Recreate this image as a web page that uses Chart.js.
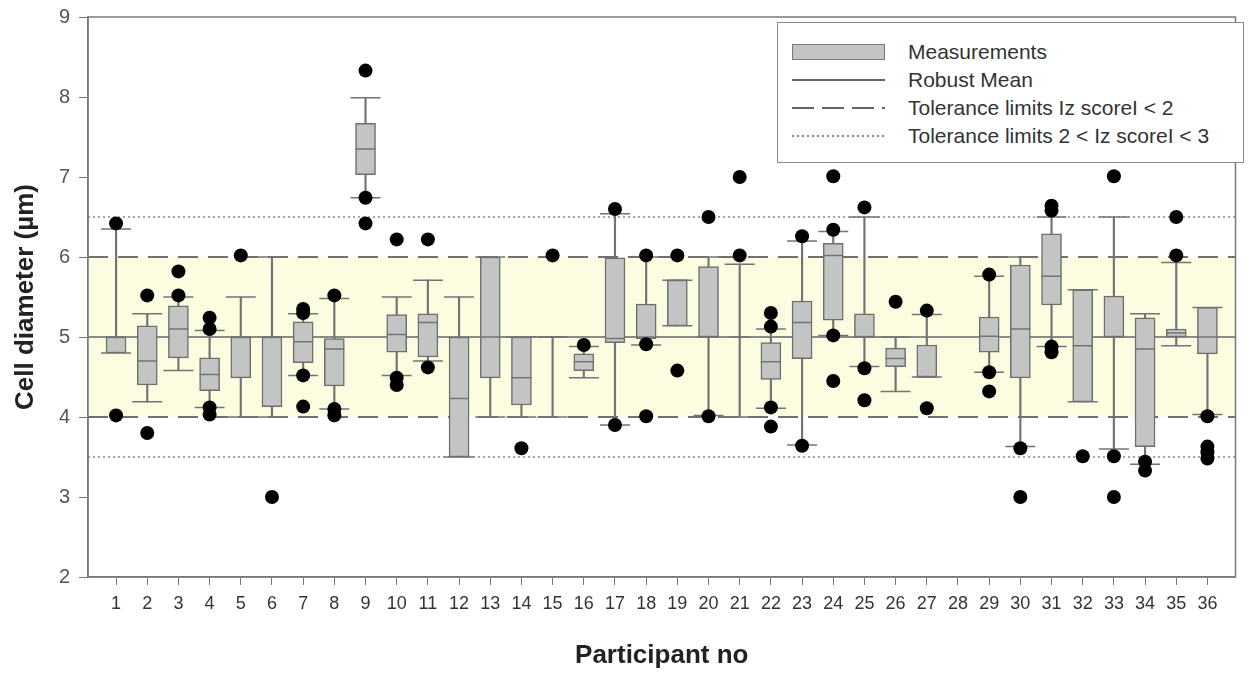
<!DOCTYPE html>
<html lang="en">
<head>
    <meta charset="UTF-8">
    <title>Cell diameter by participant</title>
    <style>
        body { margin: 0; background: #fff; font-family: "Liberation Sans", Arial, sans-serif; }
        #wrap { position: relative; width: 1252px; height: 673px; }
        #legend {
            position: absolute; left: 777px; top: 22px; width: 467px; height: 141px;
            border: 1.5px solid #8a8a8a; background: #fff; box-sizing: border-box;
            font-size: 21px; color: #333;
        }
        .row { position: absolute; left: 14px; height: 28px; display: flex; align-items: center; white-space: nowrap; }
        .sw { width: 93px; margin-right: 23px; }
        .box { background: #c4c4c4; border: 1.5px solid #777; box-sizing: border-box; height: 16px; }
        .solid { height: 1.5px; background: #666; }
        .dash { height: 1.5px; background: repeating-linear-gradient(to right, #666 0 22px, transparent 22px 30px); }
        .dot { height: 1.5px; background: repeating-linear-gradient(to right, #888 0 2px, transparent 2px 5px); }
    </style>
</head>
<body>
<div id="wrap">
    <canvas id="myChart"></canvas>
    <div id="legend">
        <div class="row" style="top:15px"><div class="sw box"></div>Measurements</div>
        <div class="row" style="top:43px"><div class="sw solid"></div>Robust Mean</div>
        <div class="row" style="top:71px"><div class="sw dash"></div>Tolerance limits Iz scoreI &lt; 2</div>
        <div class="row" style="top:99px"><div class="sw dot"></div>Tolerance limits 2 &lt; Iz scoreI &lt; 3</div>
    </div>
</div>
<script src="https://cdn.jsdelivr.net/npm/chart.js@4.4.1/dist/chart.umd.min.js"></script>
<script>
    // participants and box statistics (null = no result)
    var participants = [1,2,3,4,5,6,7,8,9,10,11,12,13,14,15,16,17,18,19,20,21,22,23,24,25,26,27,28,29,30,31,32,33,34,35,36];
    var whiskerLow  = [4.80,4.19,4.58,4.12,4.00,4.00,4.52,4.10,6.74,4.52,4.70,3.50,4.00,4.00,4.00,4.49,3.90,4.90,5.14,4.02,4.00,4.11,3.65,5.02,4.63,4.32,4.50,null,4.56,3.63,4.88,4.19,3.60,3.41,4.89,4.03];
    var q1          = [4.80,4.40,4.74,4.33,4.49,4.13,4.68,4.39,7.03,4.81,4.75,3.50,4.49,4.15,5.00,4.58,4.93,4.98,5.14,5.00,5.00,4.47,4.73,5.21,5.00,4.63,4.50,null,4.81,4.49,5.40,4.19,5.00,3.63,5.00,4.79];
    var median      = [5.00,4.70,5.10,4.53,5.00,5.00,4.94,4.85,7.35,5.03,5.18,4.23,5.00,4.49,5.00,4.69,4.98,5.00,5.71,5.00,5.00,4.69,5.18,6.02,5.00,4.73,4.50,null,5.01,5.10,5.76,4.89,5.00,4.85,5.05,5.00];
    var q3          = [5.00,5.14,5.39,4.74,5.00,5.00,5.19,4.98,7.67,5.28,5.29,5.00,6.00,5.00,5.00,4.79,5.99,5.41,5.71,5.88,5.00,4.93,5.45,6.17,5.29,4.86,4.90,null,5.25,5.90,6.29,5.59,5.51,5.24,5.10,5.37];
    var whiskerHigh = [6.35,5.29,5.50,5.08,5.50,6.00,5.29,5.48,7.99,5.50,5.71,5.50,6.00,5.00,5.00,4.88,6.54,6.00,5.71,6.00,5.91,5.10,6.20,6.32,6.50,5.00,5.28,null,5.76,6.00,6.50,5.59,6.50,5.29,5.93,5.37];
    // outliers: [participant, value]
    var outliers = [
        [1,6.42],[1,4.02],[2,5.52],[2,3.80],[3,5.82],[3,5.52],[4,5.24],[4,5.10],[4,4.12],[4,4.03],
        [5,6.02],[6,3.00],[7,5.35],[7,5.30],[7,4.52],[7,4.13],[8,5.52],[8,4.10],[8,4.02],
        [9,8.33],[9,6.74],[9,6.42],[10,6.22],[10,4.49],[10,4.40],[11,6.22],[11,4.62],
        [14,3.61],[15,6.02],[16,4.90],[17,6.60],[17,3.90],[18,6.02],[18,4.91],[18,4.01],
        [19,6.02],[19,4.58],[20,6.50],[20,4.01],[21,7.00],[21,6.02],
        [22,5.30],[22,5.13],[22,4.12],[22,3.88],[23,6.26],[23,3.64],
        [24,7.01],[24,6.34],[24,5.02],[24,4.45],[25,6.62],[25,4.61],[25,4.21],[26,5.44],
        [27,5.33],[27,4.11],[29,5.78],[29,4.56],[29,4.32],[30,3.61],[30,3.00],
        [31,6.64],[31,6.58],[31,4.88],[31,4.81],[32,3.51],[33,7.01],[33,3.51],[33,3.00],
        [34,3.44],[34,3.33],[35,6.50],[35,6.02],[36,4.01],[36,3.63],[36,3.56],[36,3.48]
    ];
    var robustMean = 5;
    var tol2 = [4, 6];
    var tol3 = [3.5, 6.5];
    var yTicks = [2,3,4,5,6,7,8,9];
    var xMin = 0.1, xMax = 36.9;

    var GREY = '#737373';

    function pairs(a, b) {
        var out = [];
        participants.forEach(function(p, i){
            if (a[i] !== null) out.push({x: p, y: [a[i], b[i]]});
        });
        return out;
    }
    function points(a) {
        var out = [];
        participants.forEach(function(p, i){
            if (a[i] !== null) out.push({x: p, y: a[i]});
        });
        return out;
    }
    function hline(v) { return [{x: xMin, y: v}, {x: xMax, y: v}]; }

    var frame = {
        id: 'frame',
        afterDraw: function(chart){
            var a = chart.chartArea, c = chart.ctx;
            c.save();
            c.strokeStyle = '#7a7a7a';
            c.lineWidth = 1.5;
            c.strokeRect(a.left, a.top, a.right - a.left, a.bottom - a.top);
            c.restore();
        }
    };

    var ctx = document.getElementById('myChart').getContext('2d');
    var myChart = new Chart(ctx, {
        type: 'bar',
        data: {
            datasets: [
                { type: 'scatter', data: outliers.map(function(o){ return {x: o[0], y: o[1]}; }),
                  pointRadius: 7, pointBackgroundColor: '#000', pointBorderWidth: 0, order: 0 },
                { type: 'scatter', data: points(median), pointStyle: 'line', pointRadius: 10,
                  pointBorderColor: GREY, pointBorderWidth: 1.5, order: 1 },
                { type: 'scatter', data: points(whiskerLow).concat(points(whiskerHigh)), pointStyle: 'line',
                  pointRadius: 15, pointBorderColor: GREY, pointBorderWidth: 1.5, order: 2 },
                { type: 'bar', data: pairs(q1, q3), grouped: false, barThickness: 20,
                  backgroundColor: '#c4c4c4', borderColor: '#6e6e6e', borderWidth: 1.5,
                  borderSkipped: false, order: 3 },
                { type: 'bar', data: pairs(whiskerLow, whiskerHigh), grouped: false, barThickness: 1.5,
                  backgroundColor: GREY, borderWidth: 0, order: 4 },
                { type: 'line', data: hline(robustMean), borderColor: '#666', borderWidth: 1.5,
                  pointRadius: 0, order: 5 },
                { type: 'line', data: hline(tol2[0]), borderColor: '#707070', borderWidth: 2,
                  borderDash: [20, 10], pointRadius: 0, order: 5 },
                { type: 'line', data: hline(tol2[1]), borderColor: '#707070', borderWidth: 2,
                  borderDash: [20, 10], pointRadius: 0, order: 5 },
                { type: 'line', data: hline(tol3[0]), borderColor: '#8a8a8a', borderWidth: 1.5,
                  borderDash: [2, 3], pointRadius: 0, order: 5 },
                { type: 'line', data: hline(tol3[1]), borderColor: '#8a8a8a', borderWidth: 1.5,
                  borderDash: [2, 3], pointRadius: 0, order: 5 },
                { type: 'line', data: hline(tol2[1]), borderWidth: 0, pointRadius: 0,
                  fill: {value: tol2[0]}, backgroundColor: '#fcfce1', order: 9 }
            ]
        },
        options: {
            responsive: true,
            maintainAspectRatio: false,
            animation: false,
            layout: { padding: { top: 0, right: 3, left: 0, bottom: 0 } },
            plugins: { legend: { display: false }, tooltip: { enabled: false } },
            scales: {
                x: {
                    type: 'linear', min: xMin, max: xMax, offset: false,
                    afterBuildTicks: function(s){ s.ticks = participants.map(function(v){ return {value: v}; }); },
                    afterFit: function(s){ s.height = 96; },
                    grid: { drawOnChartArea: false, offset: false, tickLength: 8, color: '#777' },
                    border: { color: '#7a7a7a', width: 1.5 },
                    ticks: { color: '#333', font: { size: 18, family: 'Liberation Sans' }, padding: 8,
                             maxRotation: 0, autoSkip: false },
                    title: { display: true, text: 'Participant no', color: '#222',
                             font: { size: 26, weight: 'bold', family: 'Liberation Sans' }, padding: { top: 0, bottom: 2 } }
                },
                y: {
                    min: 2, max: 9,
                    afterBuildTicks: function(s){ s.ticks = yTicks.map(function(v){ return {value: v}; }); },
                    afterFit: function(s){ s.width = 88; },
                    grid: { drawOnChartArea: false, tickLength: 9, color: '#777' },
                    border: { color: '#7a7a7a', width: 1.5 },
                    ticks: { color: '#555', font: { size: 20, family: 'Liberation Sans', lineHeight: 0.8 }, padding: 9 },
                    title: { display: true, text: 'Cell diameter (µm)', color: '#222',
                             font: { size: 26, weight: 'bold', family: 'Liberation Sans' }, padding: { top: 10, bottom: 0 } }
                }
            }
        },
        plugins: [frame]
    });
</script>
</body>
</html>
